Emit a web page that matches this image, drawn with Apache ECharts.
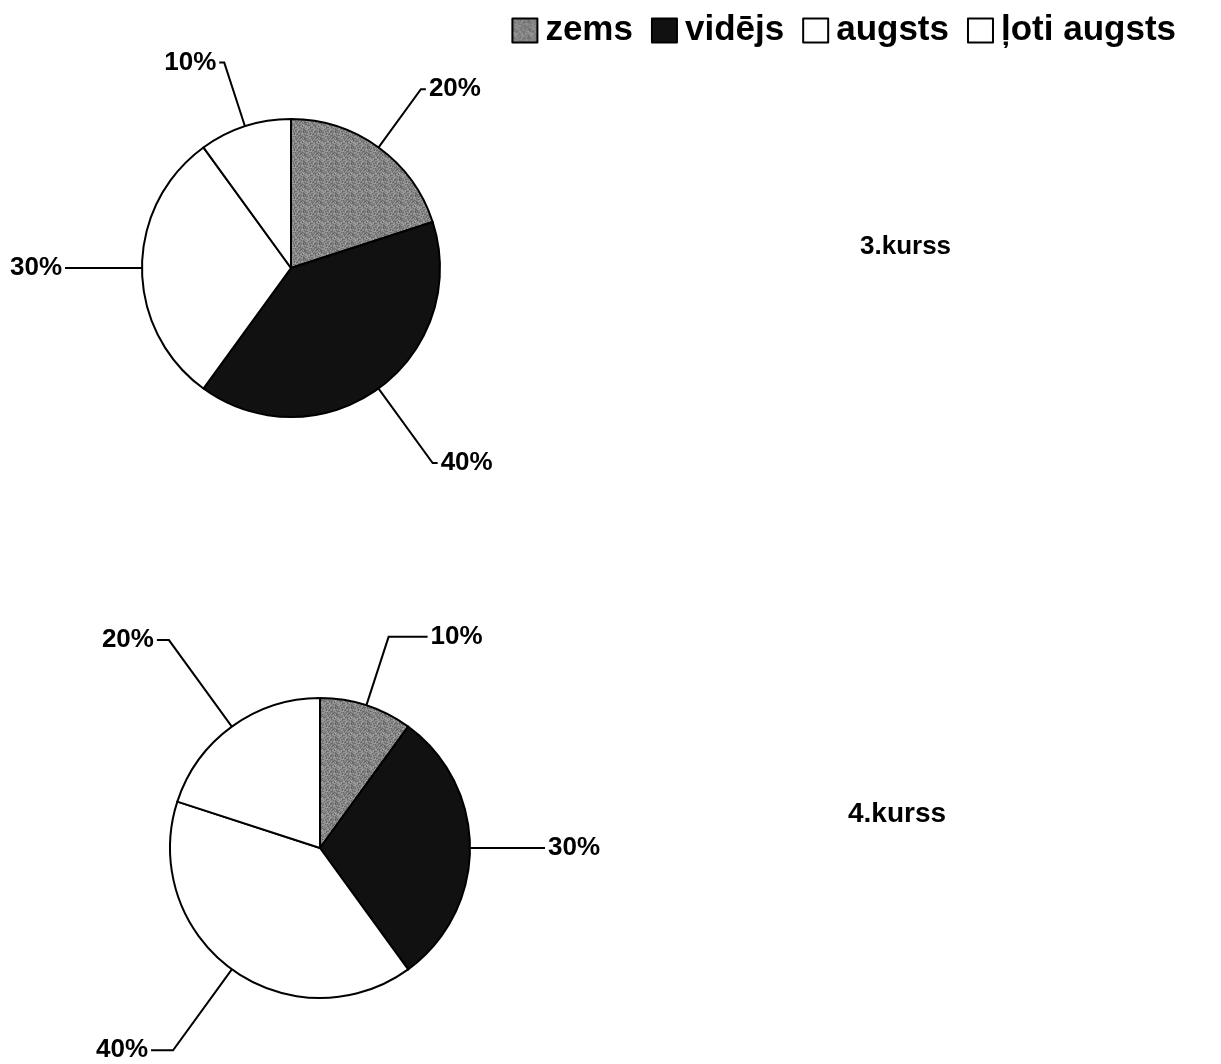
<!DOCTYPE html>
<html>
<head>
<meta charset="utf-8">
<script src="https://cdn.jsdelivr.net/npm/echarts@6/dist/echarts.min.js"></script>
<style>
html,body{margin:0;padding:0;background:#fff;}
#chart{width:1221px;height:1064px;}
</style>
</head>
<body>
<div id="chart"></div>
<script>
// ---- data ----
var categories = ['zems', 'vidējs', 'augsts', 'ļoti augsts'];
var course3Values = [20, 40, 30, 10];
var course4Values = [10, 30, 40, 20];
var panelTitles = ['3.kurss', '4.kurss'];

// ---- styling (not data) ----
var FONT = '"Liberation Sans", Arial, sans-serif';
// label line lengths per slice [length, length2]
var lines3 = [[72, 5], [92, 5], [40, 37], [67, 5]];
var lines4 = [[72, 39], [40, 35], [100, 22], [107, 12]];

function makeTexture() {
  var c = document.createElement('canvas');
  c.width = 16; c.height = 16;
  var ctx = c.getContext('2d');
  var s = 12345;
  function next() { s = (s * 1103515245 + 12345) & 0x7fffffff; return s / 0x7fffffff; }
  for (var y = 0; y < 16; y++) {
    for (var x = 0; x < 16; x++) {
      var v = Math.round(95 + next() * 70);
      ctx.fillStyle = 'rgb(' + v + ',' + v + ',' + v + ')';
      ctx.fillRect(x, y, 1, 1);
    }
  }
  return c;
}
var texture = makeTexture();
var sliceColors = [
  { image: texture, repeat: 'repeat' },
  '#111111',
  '#ffffff',
  '#ffffff'
];

function buildData(values, lines) {
  return categories.map(function (name, i) {
    return {
      name: name,
      value: values[i],
      itemStyle: { color: sliceColors[i] },
      labelLine: { length: lines[i][0], length2: lines[i][1] }
    };
  });
}

function pieSeries(values, lines, center, radius) {
  return {
    type: 'pie',
    center: center,
    radius: radius,
    startAngle: 90,
    clockwise: true,
    avoidLabelOverlap: false,
    animation: false,
    silent: true,
    itemStyle: { borderColor: '#000', borderWidth: 2 },
    label: {
      show: true,
      formatter: '{c}%',
      color: '#000',
      fontFamily: FONT,
      fontWeight: 'bold',
      fontSize: 26,
      distanceToLabelLine: 3
    },
    labelLine: {
      show: true,
      lineStyle: { color: '#000', width: 2 }
    },
    emphasis: { disabled: true },
    data: buildData(values, lines)
  };
}

var chart = echarts.init(document.getElementById('chart'));
chart.setOption({
  backgroundColor: '#fff',
  animation: false,
  legend: {
    data: categories,
    icon: 'rect',
    right: 40,
    top: 8,
    itemWidth: 25,
    itemHeight: 24,
    itemGap: 18,
    selectedMode: false,
    itemStyle: { borderColor: '#000', borderWidth: 2 },
    textStyle: { color: '#000', fontFamily: FONT, fontWeight: 'bold', fontSize: 35, padding: [0, 0, 0, 3] }
  },
  graphic: [
    { type: 'text', left: 860, top: 234, style: { text: panelTitles[0], fill: '#000', font: 'bold 26px ' + FONT } },
    { type: 'text', left: 848, top: 800, style: { text: panelTitles[1], fill: '#000', font: 'bold 28px ' + FONT } }
  ],
  series: [
    pieSeries(course3Values, lines3, [291, 268], 149),
    pieSeries(course4Values, lines4, [320, 848], 150)
  ]
});
</script>
</body>
</html>
